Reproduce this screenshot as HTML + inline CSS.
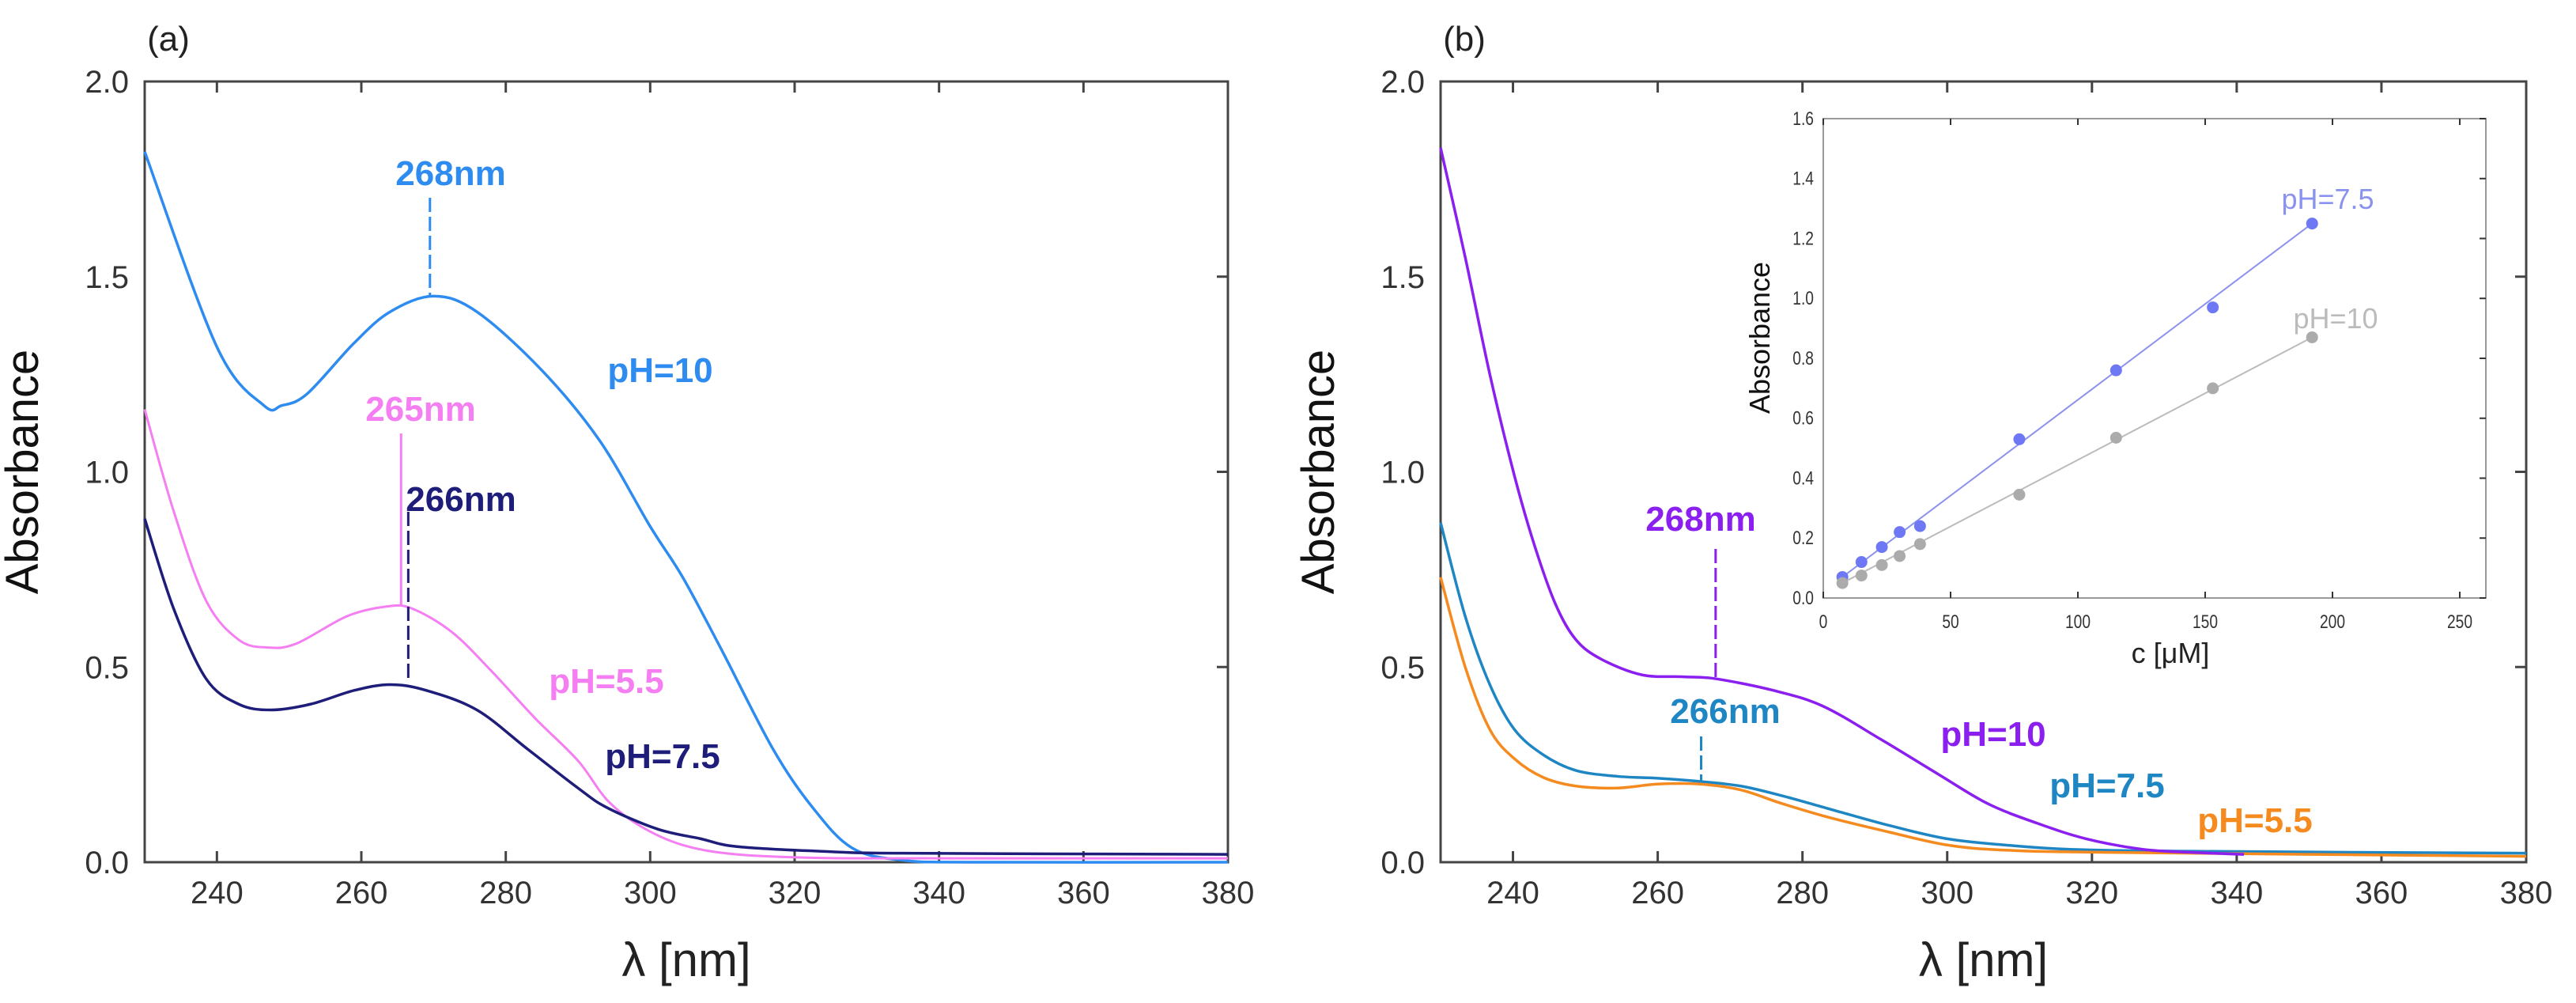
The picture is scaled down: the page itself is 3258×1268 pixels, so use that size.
<!DOCTYPE html>
<html><head><meta charset="utf-8"><style>
html,body{margin:0;padding:0;background:#fff;width:3258px;height:1268px;overflow:hidden}
svg{display:block}
text{font-family:"Liberation Sans",sans-serif}
</style></head><body>
<svg id="fig" width="3258" height="1268" viewBox="0 0 3258 1268" xmlns="http://www.w3.org/2000/svg"></svg>
<script>
// ---- Panel (a) data ----
const aWl10=[230,240,246.5,249,252.5,259,264,270,276,285,293,300,304.5,310,317,322.5,328,335,345,380];
const aAbs10=[1.82,1.32,1.17,1.17,1.2,1.33,1.41,1.45,1.41,1.26,1.08,0.86,0.73,0.54,0.29,0.14,0.036,0.005,0,0];
const aWl55=[230,234,238.5,243,247,251,258,263.5,267,272.5,278,284,290,294,298.5,304.5,312,323.5,340,380];
const aAbs55=[1.16,0.9,0.67,0.57,0.55,0.56,0.63,0.655,0.65,0.59,0.49,0.37,0.26,0.16,0.094,0.044,0.02,0.011,0.01,0.01];
const aWl75=[230,234,238.5,243,247.5,253,259,264,269,276,283,290,294,301,307,312,323.5,335,380];
const aAbs75=[0.88,0.65,0.47,0.405,0.39,0.405,0.44,0.455,0.44,0.39,0.29,0.19,0.14,0.085,0.06,0.04,0.028,0.023,0.02];
// ---- Panel (b) data ----
const bWl10=[230,233.4,236.8,240.2,243,245.9,248.7,252.2,257.8,263.5,268,276,282.8,290.8,298.8,305.6,312.4,319.2,327,334,341];
const bAbs10=[1.83,1.55,1.25,0.99,0.81,0.66,0.57,0.52,0.48,0.475,0.47,0.44,0.40,0.315,0.225,0.15,0.10,0.06,0.033,0.025,0.02];
const bWl75=[230,233.4,236.8,240.2,244.2,248.7,254.4,260,265.8,271.5,277.2,284,292,300,308,317,334,380];
const bAbs75=[0.87,0.63,0.455,0.34,0.275,0.235,0.22,0.215,0.207,0.195,0.17,0.135,0.094,0.06,0.044,0.033,0.028,0.023];
const bWl55=[230,233.4,236.8,240.2,244.2,248.7,254.4,260,265.8,271.5,277.2,284,292,300,308,322.7,380];
const bAbs55=[0.73,0.5,0.34,0.265,0.217,0.195,0.19,0.2,0.2,0.185,0.15,0.113,0.077,0.044,0.031,0.025,0.015];
// ---- Inset data ----
const insC=[7.5,15,23,30,38,77,115,153,192];
const insAbs75=[0.07,0.12,0.17,0.22,0.24,0.53,0.76,0.97,1.25];
const insAbs10=[0.05,0.075,0.11,0.14,0.18,0.345,0.535,0.70,0.87];
const xTicks=[240,260,280,300,320,340,360,380];
const yTicks=[0,0.5,1.0,1.5,2.0];
const insXTicks=[0,50,100,150,200,250];
const insYTicks=[0,0.2,0.4,0.6,0.8,1.0,1.2,1.4,1.6];

const NS="http://www.w3.org/2000/svg";
const svg=document.getElementById('fig');
function el(tag,attrs,parent){const e=document.createElementNS(NS,tag);for(const k in attrs)e.setAttribute(k,attrs[k]);(parent||svg).appendChild(e);return e;}
function txt(s,attrs,parent){const e=el('text',attrs,parent);e.textContent=s;return e;}
function smooth(pts){let d='M'+pts[0][0]+','+pts[0][1];for(let i=0;i<pts.length-1;i++){const p0=pts[i-1]||pts[i],p1=pts[i],p2=pts[i+1],p3=pts[i+2]||p2;
 const c1=[p1[0]+(p2[0]-p0[0])/6,p1[1]+(p2[1]-p0[1])/6],c2=[p2[0]-(p3[0]-p1[0])/6,p2[1]-(p3[1]-p1[1])/6];
 d+=' C'+c1[0]+','+c1[1]+' '+c2[0]+','+c2[1]+' '+p2[0]+','+p2[1];}return d;}

function panel(id,L,R,T,B,series,annots,labels,tag){
 const g=el('g',{});
 
 
 const X=v=>L+(v-230)/150*(R-L), Y=v=>B-v/2*(B-T);
 const fr=el('rect',{x:L,y:T,width:R-L,height:B-T,fill:'none',stroke:'#444',"stroke-width":3},g);
 
 
 xTicks.forEach(t=>{const x=X(t);
  if(t<380){el('line',{x1:x,y1:B,x2:x,y2:B-14,stroke:'#444',"stroke-width":3},g);el('line',{x1:x,y1:T,x2:x,y2:T+14,stroke:'#444',"stroke-width":3},g);}
  const l=txt(String(t),{x:x,y:B+52,"font-size":40,fill:'#333',"text-anchor":'middle'},g);
  
  });
 yTicks.forEach(t=>{const y=Y(t);
  el('line',{x1:R,y1:y,x2:R-14,y2:y,stroke:'#444',"stroke-width":3},g);
  const l=txt(t.toFixed(1),{x:L-20,y:y+14,"font-size":40,fill:'#333',"text-anchor":'end'},g);
  
  });
 series.forEach(s=>{const pts=s.x.map((v,i)=>[X(v),Y(s.y[i])]);
  const p=el('path',{d:smooth(pts),fill:'none',stroke:s.c,"stroke-width":s.w||3.5},g);
  
  });
 annots.forEach(a=>{const x=X(a.wl);
  const ln=el('line',{x1:x,y1:a.y1,x2:x,y2:a.y2,stroke:a.c,"stroke-width":3,"stroke-dasharray":a.dash||'18,6'},g);
  
  
  const t=txt(a.t,{x:a.tx,y:a.ty,"font-size":44,"font-weight":'bold',fill:a.c,"text-anchor":'middle'},g);
  
  });
 labels.forEach(a=>{const t=txt(a.t,{x:a.x,y:a.y,"font-size":44,"font-weight":'bold',fill:a.c,"text-anchor":'middle'},g);
  
  });
 const xt=txt('λ [nm]',{x:(L+R)/2,y:1234,"font-size":60,fill:'#222',"text-anchor":'middle'},g);
 
 
 const yt=txt('Absorbance',{x:0,y:0,"font-size":58,fill:'#111',"text-anchor":'middle',transform:`translate(${L-135},${(T+B)/2}) rotate(-90)`},g);
 
 
 const pl=txt(tag,{x:L+30,y:64,"font-size":44,fill:'#222',"text-anchor":'middle'},g);
 
 
}

panel('a',183,1553,103,1090,[
 {x:aWl10,y:aAbs10,c:'#2E8CF0',n:'curve-ph10'},
 {x:aWl55,y:aAbs55,c:'#F47EF2',n:'curve-ph5-5',w:3},
 {x:aWl75,y:aAbs75,c:'#1E1E7A',n:'curve-ph7-5'}],
 [{wl:269.5,y1:250,y2:373,c:'#2E8CF0',t:'268nm',tx:570,ty:234},
  {wl:265.5,y1:548,y2:765,c:'#F47EF2',t:'265nm',tx:532,ty:532,dash:'none'},
  {wl:266.5,y1:647,y2:862,c:'#1E1E7A',t:'266nm',tx:583,ty:646}],
 [{t:'pH=10',x:835,y:483,c:'#2E8CF0'},{t:'pH=5.5',x:767,y:876,c:'#F47EF2'},{t:'pH=7.5',x:838,y:971,c:'#1E1E7A'}],'(a)');

panel('b',1822,3195,103,1090,[
 {x:bWl75,y:bAbs75,c:'#1F86C4',n:'curve-ph7-5'},
 {x:bWl55,y:bAbs55,c:'#F58A1F',n:'curve-ph5-5'},
 {x:bWl10,y:bAbs10,c:'#8A1FF0',n:'curve-ph10'}],
 [{wl:268,y1:694,y2:858,c:'#8A1FF0',t:'268nm',tx:2151,ty:671},
  {wl:266,y1:931,y2:989,c:'#1F86C4',t:'266nm',tx:2182,ty:914}],
 [{t:'pH=10',x:2521,y:943,c:'#8A1FF0'},{t:'pH=7.5',x:2665,y:1008,c:'#1F86C4'},{t:'pH=5.5',x:2852,y:1052,c:'#F58A1F'}],'(b)');

// ---- inset ----
(function(){
 const L=2306,R=3144,T=150,B=756;
 const g=el('g',{});
 
 
 const X=v=>L+v/250*(3111-L), Y=v=>B-v/1.6*(B-T);
 el('rect',{x:L,y:T,width:R-L,height:B-T,fill:'#fff',stroke:'#999',"stroke-width":2},g);
 insXTicks.forEach(t=>{const x=X(t);
  el('line',{x1:x,y1:B,x2:x,y2:B-8,stroke:'#333',"stroke-width":2},g);el('line',{x1:x,y1:T,x2:x,y2:T+8,stroke:'#333',"stroke-width":2},g);
  const l=txt(String(t),{x:x,y:B+38,"font-size":24,fill:'#333',"text-anchor":'middle',transform:`translate(${x},0) scale(0.8,1) translate(${-x},0)`},g);
  
  });
 insYTicks.forEach(t=>{const y=Y(t);
  el('line',{x1:R,y1:y,x2:R-8,y2:y,stroke:'#333',"stroke-width":2},g);
  const l=txt(t.toFixed(1),{x:L-12,y:y+8,"font-size":24,fill:'#333',"text-anchor":'end',transform:`translate(${L-12},0) scale(0.8,1) translate(${-(L-12)},0)`},g);
  
  });
 [[insAbs75,'#6E78F5','#8A92F0','inset-ph7-5'],[insAbs10,'#ABABAB','#BBBBBB','inset-ph10']].forEach(([arr,c,lc,n])=>{
  const ln=el('line',{x1:X(insC[0]),y1:Y(arr[0]),x2:X(insC[insC.length-1]),y2:Y(arr[arr.length-1]),stroke:lc,"stroke-width":2},g);
  
  
  insC.forEach((cv,i)=>{const p=el('circle',{cx:X(cv),cy:Y(arr[i]),r:7.5,fill:c},g);
   
   });
 });
 const a=txt('pH=7.5',{x:2944,y:264,"font-size":36,fill:'#8A92F0',"text-anchor":'middle'},g);
 
 
 const b=txt('pH=10',{x:2954,y:415,"font-size":36,fill:'#BBBBBB',"text-anchor":'middle'},g);
 
 
 const xt=txt('c [μM]',{x:2745,y:838,"font-size":36,fill:'#222',"text-anchor":'middle'},g);
 
 
 const yt=txt('Absorbance',{x:0,y:0,"font-size":36,fill:'#111',"text-anchor":'middle',transform:'translate(2238,427) rotate(-90)'},g);
 
 
})();
</script>
</body></html>
